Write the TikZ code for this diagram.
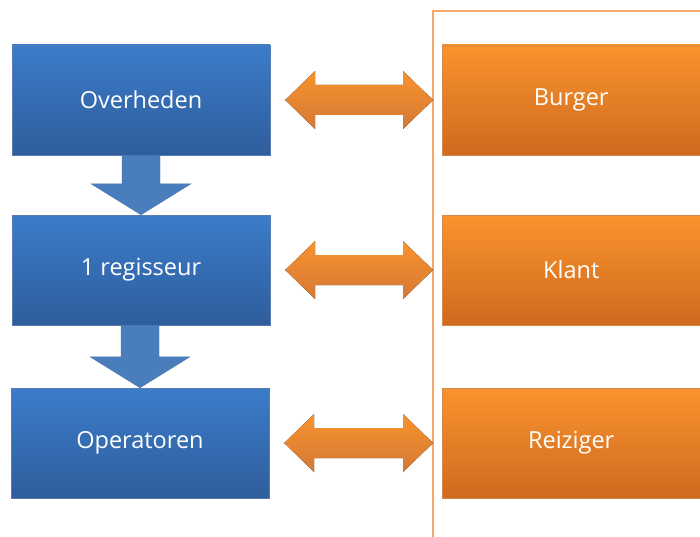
\documentclass[tikz,border=0pt]{standalone}
\usepackage{fontspec}
\setmainfont{Open Sans}
\usetikzlibrary{calc}
\definecolor{bluetop}{HTML}{3B7CC9}
\definecolor{bluebot}{HTML}{2F5D9C}
\definecolor{orgtop}{HTML}{F9932E}
\definecolor{orgbot}{HTML}{CF6A1F}
\definecolor{downarr}{HTML}{4A7DBB}
\definecolor{frameorg}{HTML}{F7A868}
\tikzset{
  box/.style={rectangle, minimum width=258pt, minimum height=110pt, inner sep=0pt,
    text=white, font=\fontsize{23.5}{28}\selectfont},
  bluebox/.style={box, top color=bluetop, bottom color=bluebot, draw=bluebot!80, line width=0.4pt},
  orgbox/.style={box, top color=orgtop, bottom color=orgbot, draw=orgbot!80, line width=0.4pt},
  fatdown/.style={fill=downarr, draw=downarr!90!black, line width=0.3pt},
  fatboth/.style={top color=orgtop, bottom color=orgbot!90, draw=none},
  frame/.style={draw=frameorg, line width=1.4pt}
}
\begin{document}
\begin{tikzpicture}[x=1pt,y=-1pt]
\useasboundingbox (0,0) rectangle (700,537);
% frame
\draw[frame] (433,545) -- (433,11) -- (710,11);
% boxes
\node[bluebox] (ov) at (141,100) {Overheden};
\node[bluebox] (re) at (141,270) {1 regisseur};
\node[bluebox] (op) at (140,443) {Operatoren};
\node[orgbox, anchor=west] (bu) at (442,100) {Burger};
\node[orgbox, anchor=west] (kl) at (442,270) {Klant};
\node[orgbox, anchor=west] (rz) at (442,443) {Reiziger};
% down arrows
\foreach \a/\b in {ov/re, re/op}{
  \coordinate (T) at (\a.south -| \b.north);
  \draw[fatdown] ($(T)+(-19,0)$) -- ($(T)+(19,0)$)
     -- ($(\b.north)+(19,-31)$) -- ($(\b.north)+(50,-31)$) -- (\b.north)
     -- ($(\b.north)+(-50,-31)$) -- ($(\b.north)+(-19,-31)$) -- cycle;
}
% double arrows
\foreach \a/\b in {ov/bu, re/kl, op/rz}{
  \coordinate (L) at ($(\a.east)+(15,0)$);
  \coordinate (R) at ($(\b.west)+(-9,0)$);
  \fill[fatboth] (L) -- ($(L)+(30,-29)$) -- ($(L)+(30,-15)$) -- ($(R)+(-30,-15)$)
     -- ($(R)+(-30,-29)$) -- (R) -- ($(R)+(-30,29)$) -- ($(R)+(-30,15)$)
     -- ($(L)+(30,15)$) -- ($(L)+(30,29)$) -- cycle;
}
\end{tikzpicture}
\end{document}
